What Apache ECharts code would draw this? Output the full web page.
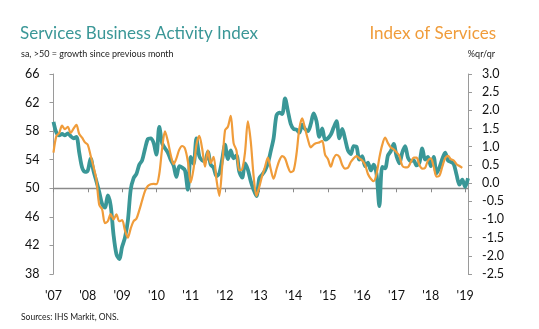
<!DOCTYPE html>
<html>
<head>
<meta charset="utf-8">
<script src="https://cdn.jsdelivr.net/npm/echarts@6/dist/echarts.min.js"></script>
<style>
html,body{margin:0;padding:0;background:#fff;}
#c{width:539px;height:329px;}
</style>
</head>
<body>
<div id="c"></div>
<script>
// Monthly categories Jan 2007 .. Feb 2019
const months = [];
for (let y = 2007; y <= 2019; y++) {
  for (let mo = 1; mo <= 12; mo++) {
    if (y === 2019 && mo > 2) break;
    months.push(y + '-' + (mo < 10 ? '0' + mo : '' + mo));
  }
}

// Services Business Activity Index (PMI, sa, left axis)
const pmi = [
  59.3, 57.8, 57.4, 57.6, 57.4, 57.7, 57.3, 57.0, 57.2, 55.0, 52.9, 52.3,
  52.5, 54.2, 52.4, 51.0, 49.5, 47.8, 47.3, 49.0, 47.6, 43.5, 40.8, 40.1,
  41.8, 43.1, 45.4, 49.8, 51.4, 52.0, 53.3, 53.9, 55.5, 56.9, 57.0, 56.4,
  54.7, 58.6, 56.3, 55.6, 55.0, 54.0, 53.2, 51.6, 53.1, 52.9, 52.5, 49.8,
  54.4, 53.4, 57.0, 54.5, 53.9, 53.8, 55.1, 53.3, 52.9, 51.7, 52.1, 54.0,
  56.1, 54.1, 55.3, 54.2, 54.6, 52.3, 51.5, 53.5, 52.6, 51.0, 49.8, 48.9,
  51.4, 51.9, 52.5, 53.5, 55.2, 57.0, 60.2, 60.6, 60.4, 62.6, 60.8, 59.0,
  58.3, 58.2, 57.8, 58.9, 58.3, 58.0, 59.0, 60.5, 59.4, 57.2, 58.4, 56.8,
  57.0, 57.5, 58.5, 59.4, 57.0, 58.3, 56.9, 55.3, 54.8, 55.9, 55.8, 54.0,
  54.5, 53.1, 53.6, 52.5, 53.3, 52.0, 47.5, 53.0, 52.8, 54.6, 55.2, 56.2,
  54.5, 53.5, 55.0, 55.9, 54.3, 53.8, 53.9, 53.2, 53.6, 55.6, 54.0, 54.4,
  53.1, 54.4, 52.1, 52.9, 54.1, 55.0, 53.9, 53.7, 53.4, 51.9, 50.5, 51.2,
  50.2, 51.4
];

// Index of Services, %qr/qr (right axis)
const ios = [
  0.84, 1.29, 1.38, 1.58, 1.48, 1.55, 1.38, 1.50, 1.60, 1.35, 1.25, 1.12,
  1.05, 0.75, 0.45, 0.10, -0.60, -0.72, -1.10, -1.05, -0.85, -1.00, -0.86, -1.05,
  -1.02, -1.30, -1.50, -1.25, -1.05, -0.98, -0.75, -0.48, -0.22, -0.08, -0.03, -0.02,
  -0.03, 0.25, 0.95, 1.42, 1.15, 0.78, 0.52, 0.68, 0.92, 1.02, 0.95, 0.60,
  0.02, 0.40, 1.05, 1.30, 0.95, 0.45, 0.90, 0.55, 0.72, 0.10, -0.35, 0.45,
  1.45, 1.55, 1.85, 1.10, 0.90, 0.35, 0.38, 0.85, 1.70, 1.15, 0.20, -0.35,
  -0.10, 0.20, 0.45, 0.70, 0.38, 0.12, 0.38, 0.62, 0.74, 0.68, 0.45, 0.30,
  0.35, 0.80, 1.50, 1.78, 1.50, 1.20, 0.98, 1.06, 1.10, 1.12, 1.16, 0.78,
  0.66, 0.45, 0.68, 0.78, 0.72, 0.50, 0.40, 0.42, 0.58, 0.68, 0.74, 0.68,
  0.62, 0.50, 0.25, 0.12, 0.05, 0.25, 0.70, 1.05, 1.25, 1.10, 0.98, 0.93,
  0.85, 0.75, 0.48, 0.43, 0.44, 0.58, 0.70, 0.70, 0.50, 0.40, 0.42, 0.62,
  0.68, 0.45, 0.18, 0.20, 0.45, 0.68, 0.75, 0.66, 0.62, 0.52, 0.47, 0.42
];

const leftMin = 38, leftMax = 66, leftStep = 4, leftRef = 50;
const rightMin = -2.5, rightMax = 3.0, rightStep = 0.5;

const TEAL = '#3a9797';
const ORANGE = '#f09c3a';
const FONT = 'Lato, "Open Sans", sans-serif';

const gridTop = 74, gridBottom = 55, gridLeft = 53.5, gridRight = 71;
const gridH = 329 - gridTop - gridBottom;
const refOffset = -gridH * (leftRef - leftMin) / (leftMax - leftMin);

const yearLabel = (v) => "'" + v.slice(2, 4);
const isJan = (i) => i % 12 === 0;

const chart = echarts.init(document.getElementById('c'), null, {renderer: 'canvas'});
chart.setOption({
  animation: false,
  backgroundColor: '#ffffff',
  textStyle: {fontFamily: FONT},
  title: [
    {text: 'Services Business Activity Index', left: 15, top: 20,
     textStyle: {color: TEAL, fontSize: 17, fontWeight: 'normal', fontFamily: FONT}},
    {text: 'sa, >50 = growth since previous month', left: 16, top: 45,
     textStyle: {color: '#222', fontSize: 9, fontWeight: 'normal', fontFamily: FONT}},
    {text: 'Index of Services', right: 38, top: 20,
     textStyle: {color: ORANGE, fontSize: 17, fontWeight: 'normal', fontFamily: FONT}},
    {text: '%qr/qr', right: 39, top: 45,
     textStyle: {color: '#222', fontSize: 9, fontWeight: 'normal', fontFamily: FONT}},
    {text: 'Sources: IHS Markit, ONS.', left: 16, top: 308,
     textStyle: {color: '#222', fontSize: 8.5, fontWeight: 'normal', fontFamily: FONT}}
  ],
  grid: {left: gridLeft, right: gridRight, top: gridTop, bottom: gridBottom, containLabel: false},
  xAxis: [
    {type: 'category', data: months, boundaryGap: false, position: 'bottom',
     axisLine: {show: false}, axisTick: {show: false},
     axisLabel: {interval: (i) => isJan(i), formatter: yearLabel, color: '#111',
                 fontSize: 12.5, margin: 15, fontFamily: FONT},
     splitLine: {show: false}},
    {type: 'category', data: months, boundaryGap: false, position: 'bottom', offset: refOffset,
     axisLine: {show: true, onZero: false, lineStyle: {color: '#8a8a8a', width: 1.3}},
     axisTick: {show: true, interval: (i) => isJan(i), length: 4, inside: false,
                lineStyle: {color: '#8a8a8a', width: 1}},
     axisLabel: {show: false}, splitLine: {show: false}}
  ],
  yAxis: [
    {type: 'value', min: leftMin, max: leftMax, interval: leftStep, position: 'left',
     axisLine: {show: true, lineStyle: {color: '#9a9a9a', width: 1}},
     axisTick: {show: true, length: 4, lineStyle: {color: '#9a9a9a'}},
     axisLabel: {color: '#111', fontSize: 12.5, margin: 14, fontFamily: FONT},
     splitLine: {show: false}},
    {type: 'value', min: rightMin, max: rightMax, interval: rightStep, position: 'right',
     axisLine: {show: true, lineStyle: {color: '#9a9a9a', width: 1}},
     axisTick: {show: true, length: 4, lineStyle: {color: '#9a9a9a'}},
     axisLabel: {color: '#111', fontSize: 12.5, margin: 14, fontFamily: FONT,
                 formatter: (v) => v.toFixed(1)},
     splitLine: {show: false}}
  ],
  series: [
    {name: 'Services Business Activity Index', type: 'line', data: pmi,
     xAxisIndex: 0, yAxisIndex: 0, showSymbol: false, smooth: 0.3,
     lineStyle: {color: TEAL, width: 3.8}, itemStyle: {color: TEAL}, z: 2},
    {name: 'Index of Services', type: 'line', data: ios,
     xAxisIndex: 0, yAxisIndex: 1, showSymbol: false, smooth: 0.3,
     lineStyle: {color: ORANGE, width: 2.2}, itemStyle: {color: ORANGE}, z: 3}
  ]
});
</script>
</body>
</html>
